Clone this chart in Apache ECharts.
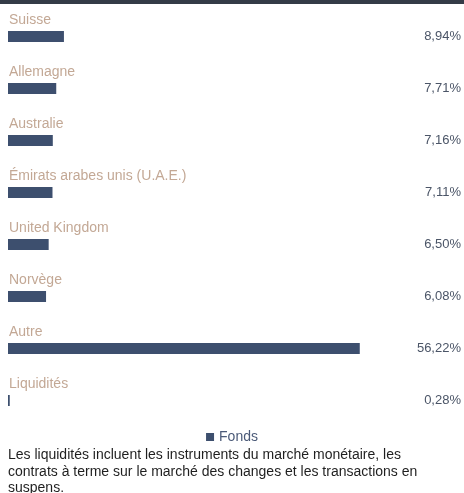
<!DOCTYPE html>
<html>
<head>
<meta charset="utf-8">
<script src="https://cdn.jsdelivr.net/npm/echarts@6/dist/echarts.min.js"></script>
<style>
  html, body { margin: 0; padding: 0; background: #fff; }
  #chart { width: 464px; height: 493px; }
</style>
</head>
<body>
<div id="chart"></div>
<script>
const countries = ['Suisse', 'Allemagne', 'Australie', 'Émirats arabes unis (U.A.E.)', 'United Kingdom', 'Norvège', 'Autre', 'Liquidités']
const weights = [8.94, 7.71, 7.16, 7.11, 6.50, 6.08, 56.22, 0.28]
const seriesName = 'Fonds'
const footnote = 'Les liquidités incluent les instruments du marché monétaire, les\ncontrats à terme sur le marché des changes et les transactions en\nsuspens.'

const FONT = '"Liberation Sans", Arial, sans-serif'
const fmtPct = (v) => v.toFixed(2).replace('.', ',') + '%'

const chart = echarts.init(document.getElementById('chart'))

chart.setOption({
  animation: false,
  textStyle: { fontFamily: FONT },
  grid: { left: 8, right: 16, top: 10.5, bottom: 66.5 },
  legend: {
    data: [seriesName],
    top: 425,
    left: 'center',
    icon: 'rect',
    itemWidth: 8,
    itemHeight: 8,
    itemGap: 10,
    textStyle: { color: '#4b5a78', fontSize: 14, fontFamily: FONT },
  },
  xAxis: {
    type: 'value',
    min: 0,
    max: 70,
    show: false,
  },
  yAxis: [
    {
      type: 'category',
      data: countries,
      inverse: true,
      axisLine: { show: false },
      axisTick: { show: false },
      axisLabel: { show: false },
    },
    {
      type: 'category',
      data: countries,
      inverse: true,
      position: 'right',
      axisLine: { show: false },
      axisTick: { show: false },
      axisLabel: {
        align: 'right',
        margin: 15,
        color: '#4b5567',
        fontSize: 13,
        fontFamily: FONT,
        formatter: (val, idx) => fmtPct(weights[idx]),
      },
    },
  ],
  series: [
    {
      name: seriesName,
      type: 'bar',
      data: weights,
      barWidth: 11,
      itemStyle: { color: '#3d4f6e' },
      label: {
        show: true,
        position: [1, -4],
        verticalAlign: 'bottom',
        align: 'left',
        formatter: '{b}',
        color: '#c3a895',
        fontSize: 14,
        fontFamily: FONT,
      },
    },
  ],
  graphic: [
    {
      type: 'rect',
      shape: { x: 0, y: 0, width: 464, height: 4 },
      style: { fill: '#343b47' },
    },
    {
      type: 'text',
      left: 8,
      top: 447,
      style: {
        text: footnote,
        fill: '#1f1f1f',
        font: '14px ' + FONT,
        lineHeight: 16.5,
      },
    },
  ],
})
</script>
</body>
</html>
